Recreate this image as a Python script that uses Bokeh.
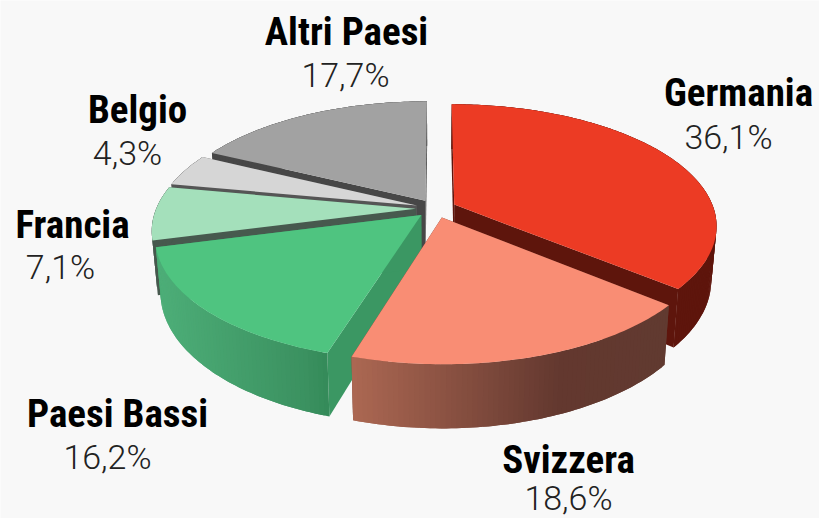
import numpy as np
from bokeh.plotting import figure
from bokeh.models import Range1d
from bokeh.core.properties import value
from bokeh.embed import file_html
from bokeh.resources import INLINE

# data (clockwise from 12 o'clock)
categories = ["Germania", "Svizzera", "Paesi Bassi", "Francia", "Belgio", "Altri Paesi"]
shares = [36.1, 18.6, 16.2, 7.1, 4.3, 17.7]
share_labels = ["36,1%", "18,6%", "16,2%", "7,1%", "4,3%", "17,7%"]

# styles
top_colors = ["#ec3b24", "#f98d74", "#4fc480", "#a4e0bb", "#d6d6d6", "#a2a2a2"]
face_colors = ["#5e150c", "#63382f", "#3b9763", "#47594e", "#555555", "#474747"]
wall_stops = [
    [(0, "#5e150c"), (1, "#5e150c")],
    [(0, "#ab6752"), (0.65, "#63382f"), (1, "#613a30")],
    [(0, "#4dae78"), (0.85, "#3b9160"), (1, "#338a58")],
    [(0, "#47594e"), (1, "#47594e")],
    [(0, "#555555"), (1, "#555555")],
    [(0, "#474747"), (1, "#474747")],
]
BG = "#f8f8f8"
draw_order = [5, 4, 3, 0, 2, 1]

# label placement, page pixels
name_pos = [(738, 92), (568, 459), (117, 413), (72, 224), (137, 109), (346, 31)]
share_pos = [(728, 136), (568, 497), (107, 456), (60, 266), (127, 152), (345, 74)]

# projection
CX, CY, R, K, P, H, EXPLODE, TAPER = 435.5, 208.0, 259.5, 0.457, 0.169, 52.5, 0.078, 0.981


def project(X, Y, bottom=False):
    X, Y = np.asarray(X, float), np.asarray(Y, float)
    s = 1 / (1 + P * Y)
    x = CX + R * X * s
    y = CY - R * K * Y * s
    if bottom:
        x = CX + (x - CX) * TAPER
        y = y + H * s
    return x, y


def hex2rgb(c):
    return np.array([int(c[i:i + 2], 16) for i in (1, 3, 5)], float)


def gradient(stops, t):
    for (t0, c0), (t1, c1) in zip(stops, stops[1:]):
        if t <= t1:
            f = (t - t0) / (t1 - t0)
            rgb = hex2rgb(c0) * (1 - f) + hex2rgb(c1) * f
            return "#%02x%02x%02x" % tuple(int(round(v)) for v in rgb)
    return stops[-1][1]


W, Ht = 819, 518
p = figure(width=W, height=Ht, x_range=Range1d(0, W), y_range=Range1d(Ht, 0),
           x_axis_type=None, y_axis_type=None, toolbar_location=None,
           output_backend="svg", min_border=0, background_fill_color=BG,
           border_fill_color=BG, outline_line_color=None)
p.grid.visible = False

edges = np.cumsum([0] + shares) / sum(shares) * 2 * np.pi
for i in draw_order:
    a0, a1 = edges[i], edges[i + 1]
    mid = (a0 + a1) / 2
    ex, ey = EXPLODE * np.sin(mid), EXPLODE * np.cos(mid)
    th = np.linspace(a0, a1, max(8, int((a1 - a0) * 60)))
    X, Y = ex + np.sin(th), ey + np.cos(th)
    tx, ty = project(X, Y)
    bx, by = project(X, Y, True)
    ax_t, ay_t = project([ex], [ey])
    ax_b, ay_b = project([ex], [ey], True)

    # cut faces
    fx = [[ax_t[0], tx[0], bx[0], ax_b[0]], [ax_t[0], tx[-1], bx[-1], ax_b[0]]]
    fy = [[ay_t[0], ty[0], by[0], ay_b[0]], [ay_t[0], ty[-1], by[-1], ay_b[0]]]
    p.patches(fx, fy, fill_color=face_colors[i], line_color=None)

    # outer wall as overlapping shaded strips, so no seams show
    n = len(th)
    xs, ys, cols = [], [], []
    x_lo, x_hi = tx.min(), tx.max()
    for j in range(n - 1):
        k = min(j + 3, n)
        xs.append(np.r_[tx[j:k], bx[j:k][::-1]])
        ys.append(np.r_[ty[j:k], by[j:k][::-1]])
        cols.append(gradient(wall_stops[i], float((min(tx[j], tx[j + 1]) - x_lo) / max(x_hi - x_lo, 1))))
    order = np.argsort([-np.mean(x) for x in xs]) if i == 2 or i == 1 else range(n - 1)
    p.patches([xs[o] for o in order], [ys[o] for o in order],
              fill_color=[cols[o] for o in order], line_color=None)

    # top face
    p.patch(np.r_[ax_t, tx], np.r_[ay_t, ty], fill_color=top_colors[i], line_color=None)

p.text([q[0] for q in name_pos], [q[1] for q in name_pos], text=categories,
       text_font=value("Roboto Condensed"), text_font_style="bold", text_font_size="39px",
       text_color="#000000", text_align="center", text_baseline="middle")
p.text([q[0] for q in share_pos], [q[1] for q in share_pos], text=share_labels,
       text_font=value("Roboto Light"), text_font_size="34px",
       text_color="#222222", text_align="center", text_baseline="middle")

open("out.html", "w").write(file_html(p, INLINE))
